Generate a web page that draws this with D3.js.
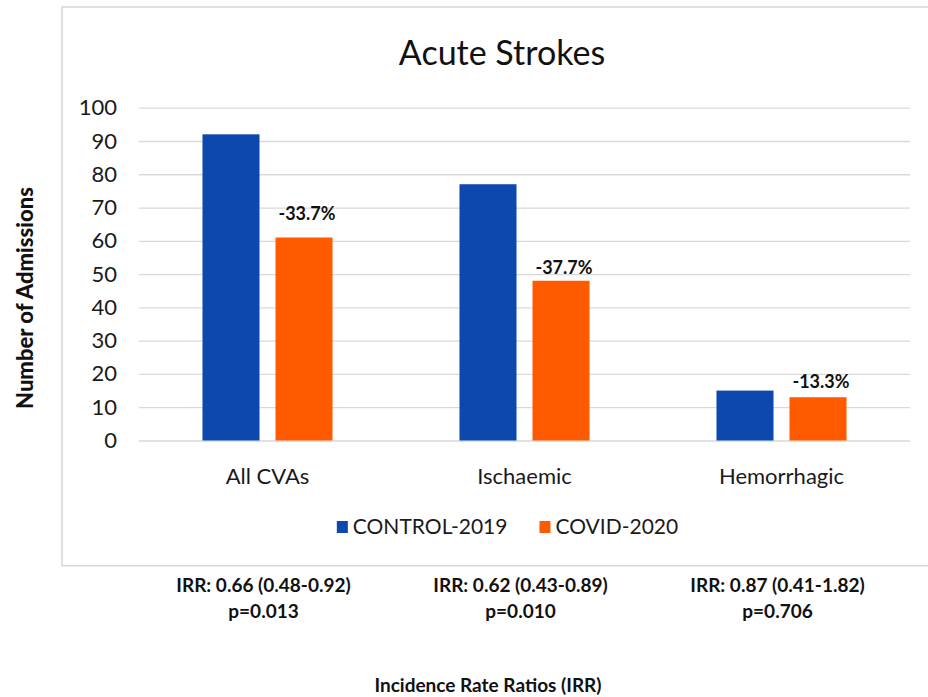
<!DOCTYPE html>
<html>
<head>
<meta charset="utf-8">
<script src="https://cdn.jsdelivr.net/npm/d3@7"></script>
<style>
  body { margin: 0; background: #fff; }
  svg { display: block; font-family: Lato, "Open Sans", sans-serif; }
</style>
</head>
<body>
<svg id="chart" width="928" height="697"></svg>
<script>
// data
const categories = ["All CVAs", "Ischaemic", "Hemorrhagic"];
const seriesNames = ["CONTROL-2019", "COVID-2020"];
const control2019 = [92, 77, 15];
const covid2020 = [61, 48, 13];
const changeLabels = ["-33.7%", "-37.7%", "-13.3%"];
const irrLabels = ["IRR: 0.66 (0.48-0.92)", "IRR: 0.62 (0.43-0.89)", "IRR: 0.87 (0.41-1.82)"];
const pLabels = ["p=0.013", "p=0.010", "p=0.706"];
const yTicks = [0, 10, 20, 30, 40, 50, 60, 70, 80, 90, 100];

const colors = ["#0c48ae", "#ff5a00"];
const labelLift = [17, 7, 9]; // labels were placed by hand in the original

const svg = d3.select("#chart");

const plot = { left: 139, right: 910, top: 107.7, bottom: 440.5 };

const x0 = d3.scaleBand()
  .domain(categories)
  .range([plot.left, plot.right])
  .paddingInner(0.494)
  .paddingOuter(0.247);

const x1 = d3.scaleBand()
  .domain(seriesNames)
  .range([0, x0.bandwidth()])
  .paddingInner(0.219);

const y = d3.scaleLinear().domain([0, 100]).range([plot.bottom, plot.top]);

// chart frame
svg.append("rect")
  .attr("x", 62).attr("y", 7)
  .attr("width", 900).attr("height", 558.7)
  .attr("fill", "white")
  .attr("stroke", "#d6d6d6")
  .attr("stroke-width", 1.5);

// title
svg.append("text")
  .attr("x", 502).attr("y", 65)
  .attr("text-anchor", "middle")
  .style("font-size", "34px")
  .style("fill", "#111")
  .text("Acute Strokes");

// y axis with gridlines
const yAxis = svg.append("g")
  .attr("transform", `translate(${plot.left},0)`)
  .call(d3.axisLeft(y).tickValues(yTicks).tickSize(-(plot.right - plot.left)).tickPadding(22));
yAxis.select(".domain").remove();
yAxis.selectAll(".tick line").attr("stroke", "#d9d9d9").attr("stroke-width", 1.3);
yAxis.selectAll(".tick text")
  .style("font-size", "22px")
  .style("font-family", "Lato, sans-serif")
  .attr("fill", "#1a1a1a");

// x axis labels
const xAxis = svg.append("g")
  .attr("transform", `translate(0,${plot.bottom})`)
  .call(d3.axisBottom(x0).tickSize(0).tickPadding(0));
xAxis.select(".domain").remove();
xAxis.selectAll(".tick text")
  .attr("y", 43).attr("dy", 0)
  .style("font-size", "22px")
  .style("font-family", "Lato, sans-serif")
  .attr("fill", "#1a1a1a");

// bars
const rows = categories.map((c, i) => ({ cat: c, values: [control2019[i], covid2020[i]] }));

const groups = svg.append("g").selectAll("g")
  .data(rows)
  .join("g")
  .attr("transform", d => `translate(${x0(d.cat)},0)`);

groups.selectAll("rect")
  .data(d => d.values.map((v, j) => ({ name: seriesNames[j], value: v, j })))
  .join("rect")
  .attr("x", d => x1(d.name))
  .attr("y", d => y(d.value))
  .attr("width", x1.bandwidth())
  .attr("height", d => y(0) - y(d.value))
  .attr("fill", d => colors[d.j]);

// change labels above covid bars
svg.append("g").selectAll("text")
  .data(rows)
  .join("text")
  .attr("x", d => x0(d.cat) + x1("COVID-2020") + x1.bandwidth() / 2 + 3)
  .attr("y", (d, i) => y(d.values[1]) - labelLift[i])
  .attr("text-anchor", "middle")
  .style("font-size", "18px")
  .style("font-weight", "bold")
  .style("fill", "#111")
  .text((d, i) => changeLabels[i]);

// y axis title
svg.append("text")
  .attr("transform", "translate(33,298) rotate(-90)")
  .attr("text-anchor", "middle")
  .style("font-size", "22px")
  .style("font-weight", "900")
  .style("fill", "#111")
  .text("Number of Admissions");

// legend
const legend = svg.append("g");
const items = legend.selectAll("g")
  .data(seriesNames)
  .join("g");
items.append("rect")
  .attr("width", 11).attr("height", 12)
  .attr("y", -13)
  .attr("fill", (d, i) => colors[i]);
items.append("text")
  .attr("x", 16)
  .attr("y", 0)
  .style("font-size", "21px")
  .style("fill", "#1a1a1a")
  .text(d => d);
let cursor = 0;
items.each(function () {
  d3.select(this).attr("transform", `translate(${cursor},0)`);
  cursor += 16 + this.querySelector("text").getComputedTextLength() + 32;
});
const legendWidth = cursor - 32;
legend.attr("transform", `translate(${507.5 - legendWidth / 2},534)`);

// IRR annotations below the frame
const notes = svg.append("g").selectAll("text")
  .data(categories)
  .join("text")
  .attr("x", d => x0(d) + x0.bandwidth() / 2 - 4)
  .attr("text-anchor", "middle")
  .style("font-size", "19px")
  .style("font-weight", "bold")
  .style("fill", "#111");
notes.append("tspan")
  .attr("y", 592)
  .text((d, i) => irrLabels[i]);
notes.append("tspan")
  .attr("x", d => x0(d) + x0.bandwidth() / 2 - 4)
  .attr("y", 618)
  .text((d, i) => pLabels[i]);

svg.append("text")
  .attr("x", 488).attr("y", 692)
  .attr("text-anchor", "middle")
  .style("font-size", "19px")
  .style("font-weight", "bold")
  .style("fill", "#111")
  .text("Incidence Rate Ratios (IRR)");
</script>
</body>
</html>
